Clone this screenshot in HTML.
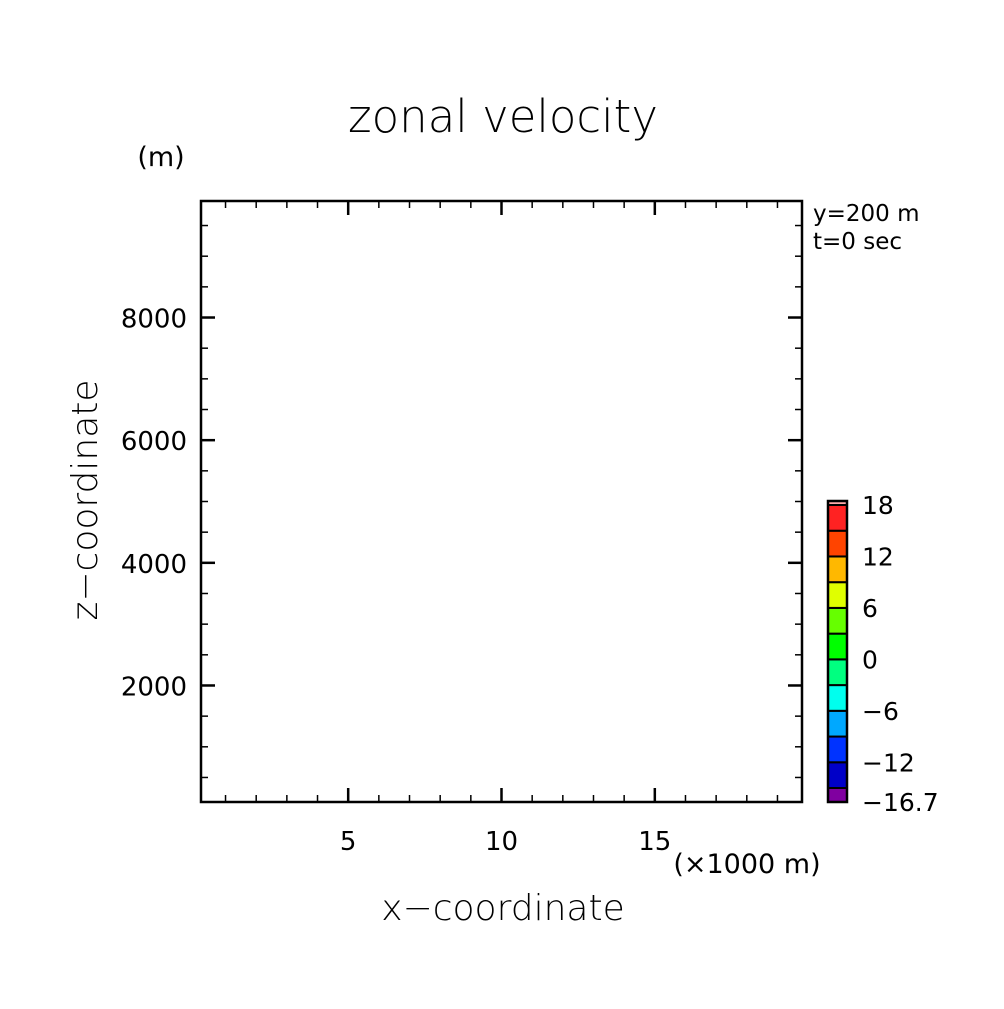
<!DOCTYPE html>
<html><head><meta charset="utf-8"><style>
body{margin:0;background:#fff}
svg text{font-family:"DejaVu Sans","Liberation Sans",sans-serif;fill:#000}
</style></head><body>
<svg width="1004" height="1004" viewBox="0 0 1004 1004">
<rect width="1004" height="1004" fill="#fff"/>
<text x="503" y="132" font-size="45" text-anchor="middle" font-weight="200">zonal velocity</text>
<text x="161" y="166" font-size="27" text-anchor="middle">(m)</text>
<text x="813" y="221" font-size="23" fill="#333">y=200 m</text>
<text x="813" y="249" font-size="23" fill="#333">t=0 sec</text>
<text x="747" y="873" font-size="27" text-anchor="middle">(×1000 m)</text>
<text x="503" y="920" font-size="36" text-anchor="middle" font-weight="200">x−coordinate</text>
<text transform="translate(97,500) rotate(-90)" font-size="36" text-anchor="middle" font-weight="200">z−coordinate</text>
<g id="axes"></g>
<g id="cbar"></g>
</svg>
<script>
const xDomain=[0.2,19.8];
const zDomain=[100,9900];
const xMajor=[5,10,15];
const zMajor=[2000,4000,6000,8000];
const cbLevels=[-16.7,-15,-12,-9,-6,-3,0,3,6,9,12,15,18,18.5];
const cbColors=["#8000a0","#0000c8","#0033ff","#00a8ff","#00ffee","#00ff80","#00ff00","#66ff00","#e0ff00","#ffb800","#ff4400","#ff2222","#ffaaaa"];
const cbLabels=[-16.7,-12,-6,0,6,12,18];
const NS="http://www.w3.org/2000/svg";
const L=201,R=802,T=201,B=802;
const sx=v=>L+(v-xDomain[0])/(xDomain[1]-xDomain[0])*(R-L);
const sz=v=>B-(v-zDomain[0])/(zDomain[1]-zDomain[0])*(B-T);
function mk(t,a,p){const e=document.createElementNS(NS,t);for(const k in a)e.setAttribute(k,a[k]);p.appendChild(e);return e;}
const ax=document.getElementById('axes');
const frame=mk('rect',{x:L,y:T,width:R-L,height:B-T,fill:'none',stroke:'#000','stroke-width':2.5},ax);


for(let v=1;v<=19;v++){
  const maj=xMajor.includes(v),len=maj?14:7,x=sx(v);
  mk('line',{x1:x,x2:x,y1:B,y2:B-len,stroke:'#000','stroke-width':maj?2.5:1.5},ax);
  mk('line',{x1:x,x2:x,y1:T,y2:T+len,stroke:'#000','stroke-width':maj?2.5:1.5},ax);
}
xMajor.forEach(v=>{const t=mk('text',{x:sx(v),y:850,'font-size':26,'text-anchor':'middle'},ax);t.textContent=v;

});
for(let v=500;v<=9500;v+=500){
  const maj=zMajor.includes(v),len=maj?14:7,y=sz(v);
  mk('line',{x1:L,x2:L+len,y1:y,y2:y,stroke:'#000','stroke-width':maj?2.5:1.5},ax);
  mk('line',{x1:R,x2:R-len,y1:y,y2:y,stroke:'#000','stroke-width':maj?2.5:1.5},ax);
}
zMajor.forEach(v=>{const t=mk('text',{x:187,y:sz(v)+10,'font-size':26,'text-anchor':'end'},ax);t.textContent=v;

});
const cb=document.getElementById('cbar');
const cbT=501,cbB=802,cbX=828,cbW=19;
const lo=cbLevels[0],step=(788-505)/11;
const cy=v=>v<=-15?802-(v-lo)/(-15-lo)*14:(v<=18?788-(v+15)/3*step:505-(v-18)/0.5*4);
for(let i=0;i<cbColors.length;i++){
  const y1=cy(cbLevels[i+1]),y0=cy(cbLevels[i]);
  const r=mk('rect',{x:cbX,y:y1,width:cbW,height:y0-y1,fill:cbColors[i],stroke:'#000','stroke-width':2},cb);
  
  
}
mk('rect',{x:cbX,y:cbT,width:cbW,height:cbB-cbT,fill:'none',stroke:'#000','stroke-width':2.5},cb);
cbLabels.forEach(v=>{const t=mk('text',{x:862,y:cy(v)+9,'font-size':25},cb);t.textContent=String(v).replace('-','−');

});
</script>
</body></html>
